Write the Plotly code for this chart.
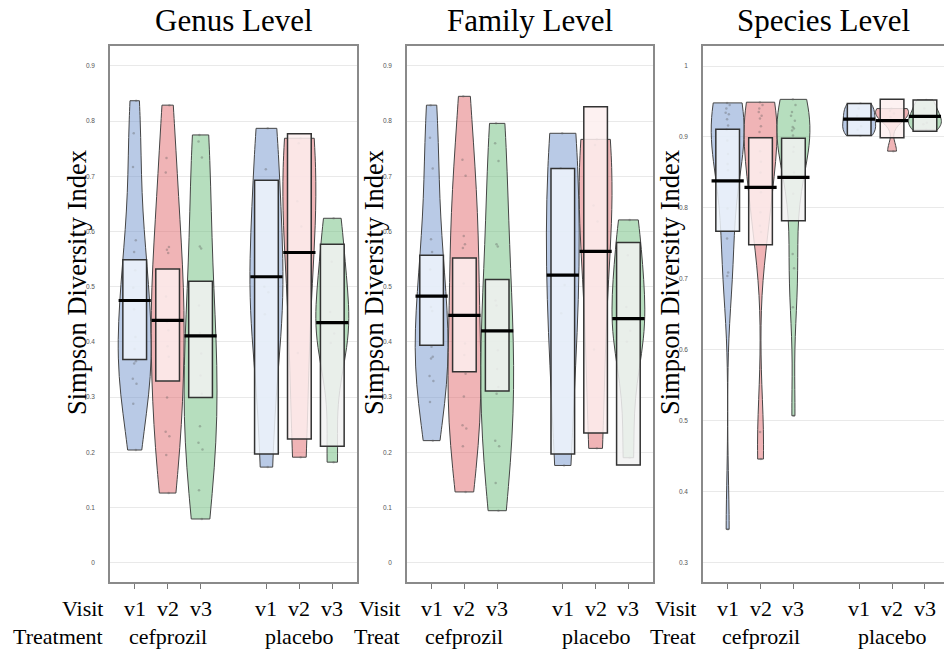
import plotly.graph_objects as go

# ---------------- data ----------------
positions = [1, 2, 3, 5, 6, 7]
visit_labels = ["v1", "v2", "v3", "v1", "v2", "v3"]
treatment_labels = ["cefprozil", "placebo"]
treatment_centers = [2, 6]
panel_titles = ["Genus Level", "Family Level", "Species Level"]
treat_row_labels = ["Treatment", "Treat", "Treat"]

# Genus level raw points
genus_cef_v1 = [0.837, 0.778, 0.717, 0.584, 0.563, 0.530, 0.498, 0.459, 0.409, 0.387, 0.365, 0.361, 0.333, 0.324, 0.288, 0.204]
genus_cef_v2 = [0.829, 0.733, 0.707, 0.572, 0.567, 0.561, 0.482, 0.436, 0.421, 0.392, 0.373, 0.299, 0.237, 0.229, 0.195, 0.126]
genus_cef_v3 = [0.775, 0.763, 0.734, 0.573, 0.569, 0.466, 0.416, 0.379, 0.339, 0.306, 0.247, 0.217, 0.205, 0.131, 0.079]
genus_pla_v1 = [0.787, 0.713, 0.500, 0.490, 0.450, 0.173]
genus_pla_v2 = [0.769, 0.760, 0.655, 0.609, 0.380, 0.191]
genus_pla_v3 = [0.624, 0.545, 0.454, 0.415, 0.398, 0.182]

# Family level raw points
family_cef_v1 = [0.829, 0.770, 0.714, 0.586, 0.563, 0.531, 0.463, 0.456, 0.391, 0.373, 0.370, 0.338, 0.329, 0.291, 0.221]
family_cef_v2 = [0.845, 0.730, 0.701, 0.592, 0.577, 0.570, 0.506, 0.397, 0.376, 0.342, 0.301, 0.249, 0.243, 0.211, 0.128]
family_cef_v3 = [0.796, 0.760, 0.728, 0.577, 0.573, 0.475, 0.466, 0.385, 0.351, 0.318, 0.306, 0.221, 0.211, 0.144, 0.094]
family_pla_v1 = [0.778, 0.714, 0.503, 0.452, 0.176]
family_pla_v2 = [0.767, 0.757, 0.647, 0.618, 0.386, 0.207]
family_pla_v3 = [0.621, 0.557, 0.463, 0.420, 0.400, 0.190]

# Species level raw points
species_cef_v1 = [0.948, 0.945, 0.940, 0.934, 0.932, 0.925, 0.916, 0.910, 0.895, 0.876, 0.862, 0.853, 0.799, 0.757, 0.709, 0.704, 0.347]
species_cef_v2 = [0.949, 0.945, 0.940, 0.935, 0.930, 0.926, 0.915, 0.907, 0.880, 0.865, 0.850, 0.822, 0.794, 0.775, 0.766, 0.484, 0.446]
species_cef_v3 = [0.953, 0.945, 0.935, 0.930, 0.923, 0.914, 0.912, 0.909, 0.902, 0.886, 0.879, 0.850, 0.820, 0.735, 0.715, 0.660, 0.507]
species_pla_v1 = [0.947, 0.940, 0.930, 0.915, 0.910, 0.902]
species_pla_v2 = [0.940, 0.937, 0.933, 0.928, 0.880]
species_pla_v3 = [0.952, 0.940, 0.930, 0.920, 0.918, 0.910]

# Means and inference bands
genus_mean = [0.475, 0.439, 0.411, 0.518, 0.562, 0.435]
genus_low = [0.368, 0.329, 0.299, 0.197, 0.224, 0.211]
genus_high = [0.549, 0.532, 0.510, 0.693, 0.777, 0.577]
family_mean = [0.483, 0.448, 0.420, 0.521, 0.564, 0.442]
family_low = [0.394, 0.346, 0.311, 0.197, 0.235, 0.177]
family_high = [0.557, 0.552, 0.513, 0.714, 0.826, 0.580]
species_mean = [0.838, 0.829, 0.843, 0.925, 0.923, 0.929]
species_low = [0.767, 0.748, 0.782, 0.902, 0.899, 0.908]
species_high = [0.911, 0.899, 0.898, 0.947, 0.953, 0.952]

# ---------------- styles ----------------
violin_fill = ["rgba(115,150,205,0.5)", "rgba(225,105,110,0.5)", "rgba(110,190,125,0.5)"]
box_fill = ["rgba(238,244,251,0.85)", "rgba(253,239,239,0.85)", "rgba(242,242,242,0.85)"]
SERIF = "Liberation Serif, Times New Roman, serif"

panels = [
    ([genus_cef_v1, genus_cef_v2, genus_cef_v3, genus_pla_v1, genus_pla_v2, genus_pla_v3], genus_mean, genus_low, genus_high),
    ([family_cef_v1, family_cef_v2, family_cef_v3, family_pla_v1, family_pla_v2, family_pla_v3], family_mean, family_low, family_high),
    ([species_cef_v1, species_cef_v2, species_cef_v3, species_pla_v1, species_pla_v2, species_pla_v3], species_mean, species_low, species_high),
]

W, H = 944, 652
x_domains = [[110 / W, 357 / W], [407 / W, 653 / W], [703 / W, 1.0]]
x_ranges = [[0.25, 7.75], [0.25, 7.75], [0.25, 7.58]]
y_ranges = [[-0.0352, 0.9362], [-0.0352, 0.9362], [0.2727, 1.0282]]
y_ticks = [[round(0.1 * i, 1) for i in range(10)], [round(0.1 * i, 1) for i in range(10)], [round(0.3 + 0.1 * i, 1) for i in range(8)]]

fig = go.Figure()

for p, (groups, means, lows, highs) in enumerate(panels):
    xa = "x" if p == 0 else f"x{p + 1}"
    ya = "y" if p == 0 else f"y{p + 1}"
    for i, vals in enumerate(groups):
        c = i % 3
        fig.add_trace(go.Violin(
            x=[positions[i]] * len(vals), y=vals, xaxis=xa, yaxis=ya,
            width=1.0, spanmode="hard", side="both",
            fillcolor=violin_fill[c], line=dict(color="#454545", width=1),
            points="all", pointpos=0, jitter=0.15,
            marker=dict(size=2.5, color="rgba(90,90,90,0.35)"),
            box_visible=False, meanline_visible=False,
            hoverinfo="skip", showlegend=False,
        ))
    for i in range(6):
        c = i % 3
        fig.add_trace(go.Box(
            x=[positions[i]], q1=[lows[i]], median=[means[i]], q3=[highs[i]],
            lowerfence=[lows[i]], upperfence=[highs[i]],
            xaxis=xa, yaxis=ya, width=0.72, whiskerwidth=0,
            fillcolor=box_fill[c], line=dict(color="#333333", width=1.5),
            boxpoints=False, hoverinfo="skip", showlegend=False,
        ))
    fig.add_trace(go.Scatter(
        x=positions, y=means, xaxis=xa, yaxis=ya, mode="markers",
        marker=dict(symbol="line-ew", size=23, line=dict(color="black", width=3.2)),
        hoverinfo="skip", showlegend=False,
    ))

layout = dict(
    width=W, height=H,
    margin=dict(l=0, r=0, t=46, b=70),
    paper_bgcolor="white", plot_bgcolor="white",
    violinmode="overlay", boxmode="overlay",
    showlegend=False,
)

annotations = []
for p in range(3):
    sx = "" if p == 0 else str(p + 1)
    layout["xaxis" + sx] = dict(
        domain=x_domains[p], range=x_ranges[p], anchor="y" + sx,
        tickmode="array", tickvals=positions, showticklabels=False,
        ticks="outside", ticklen=5, tickcolor="#777777", tickwidth=1,
        showgrid=False, zeroline=False,
        showline=True, linecolor="#8a8a8a", linewidth=1.5, mirror=True,
    )
    layout["yaxis" + sx] = dict(
        domain=[0, 1], range=y_ranges[p], anchor="x" + sx,
        tickmode="array", tickvals=y_ticks[p], ticktext=[f"{v:g}" for v in y_ticks[p]],
        ticks="", ticklabelstandoff=12,
        tickfont=dict(family="Liberation Sans, Arial", size=6.5, color="#555555"),
        showgrid=True, gridcolor="#e9e9e9", gridwidth=1, zeroline=False,
        showline=True, linecolor="#8a8a8a", linewidth=1.5, mirror=(p < 2),
    )
    # panel title
    annotations.append(dict(
        text=panel_titles[p], xref=f"x{sx} domain", yref="paper", x=0.5, y=1,
        yshift=26, xanchor="center", yanchor="middle", showarrow=False,
        font=dict(family=SERIF, size=31, color="black"),
    ))
    # y axis title
    annotations.append(dict(
        text="Simpson Diversity Index", xref=f"x{sx} domain", yref="paper", x=0, y=0.5,
        xshift=-33, yshift=31, textangle=-90, xanchor="center", yanchor="middle",
        showarrow=False, font=dict(family=SERIF, size=26.5, color="black"),
    ))
    # row labels
    annotations.append(dict(
        text="Visit", xref=f"x{sx} domain", yref="paper", x=0, y=0,
        xshift=-5, yshift=-26, xanchor="right", yanchor="middle", showarrow=False,
        font=dict(family=SERIF, size=22, color="black"),
    ))
    annotations.append(dict(
        text=treat_row_labels[p], xref=f"x{sx} domain", yref="paper", x=0, y=0,
        xshift=-5, yshift=-54, xanchor="right", yanchor="middle", showarrow=False,
        font=dict(family=SERIF, size=22, color="black"),
    ))
    for pos, lab in zip(positions, visit_labels):
        annotations.append(dict(
            text=lab, xref="x" + sx, yref="paper", x=pos, y=0,
            yshift=-26, xanchor="center", yanchor="middle", showarrow=False,
            font=dict(family=SERIF, size=22, color="black"),
        ))
    for cpos, lab in zip(treatment_centers, treatment_labels):
        annotations.append(dict(
            text=lab, xref="x" + sx, yref="paper", x=cpos, y=0,
            yshift=-54, xanchor="center", yanchor="middle", showarrow=False,
            font=dict(family=SERIF, size=22, color="black"),
        ))

layout["annotations"] = annotations
fig.update_layout(**layout)

fig.write_html("out.html")
